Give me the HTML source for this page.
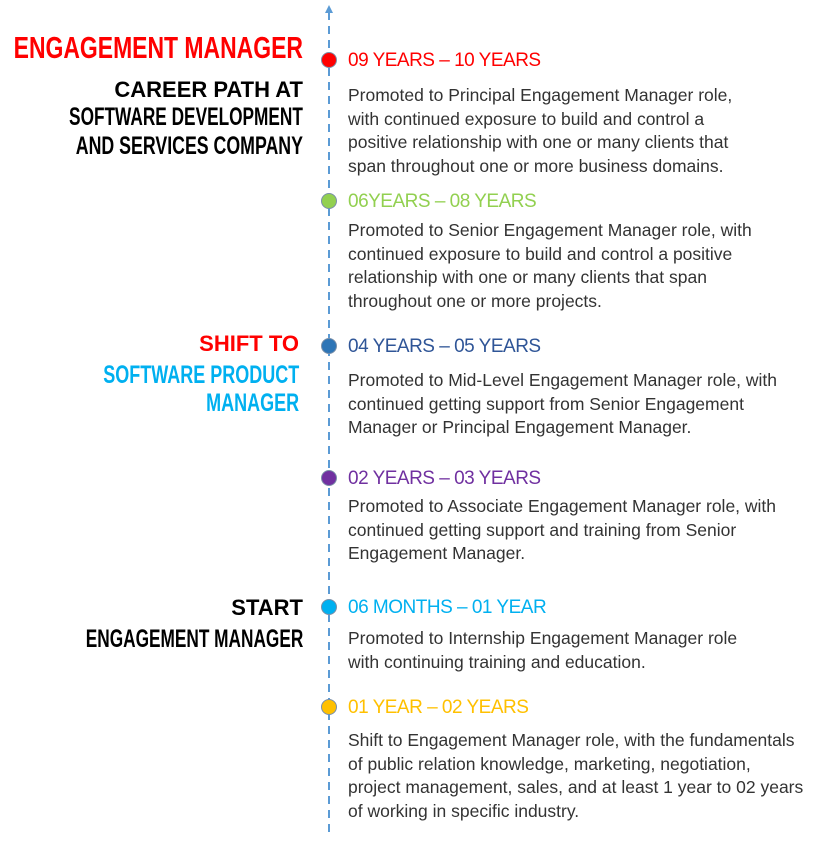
<!DOCTYPE html>
<html><head><meta charset="utf-8"><style>
body{margin:0;width:817px;height:849px;background:#fff;position:relative;overflow:hidden;font-family:"Liberation Sans",sans-serif}
.a{position:absolute;white-space:nowrap}
.c{font-family:"Liberation Sans Narrow","Liberation Sans",sans-serif;font-weight:bold;transform:scaleX(.78);transform-origin:right center;right:514px;line-height:1}
.r{right:514px;font-weight:bold;line-height:1}
.d{position:absolute;left:321px;width:16px;height:16px;border-radius:50%;box-sizing:border-box;border:1px solid #7a8fa8}
.h{position:absolute;left:348px;font-size:19px;line-height:1;white-space:nowrap;letter-spacing:-.5px}
.p{position:absolute;left:348px;font-size:17.5px;line-height:23.5px;color:#333;white-space:nowrap}
</style></head><body>
<svg class="a" style="left:0;top:0" width="817" height="849">
<line x1="329" y1="12" x2="329" y2="835" stroke="#5b9bd5" stroke-width="2" stroke-dasharray="8,6"/>
<polygon points="329,5 325,13 333,13" fill="#5b9bd5"/>
</svg>
<div class="a c" style="top:32px;font-size:31px;color:#f00;transform:scaleX(.74)">ENGAGEMENT MANAGER</div>
<div class="a r" style="top:79px;font-size:22px;color:#000">CAREER PATH AT</div>
<div class="a c" style="top:105px;font-size:25px;color:#000;transform:scaleX(.69)">SOFTWARE DEVELOPMENT</div>
<div class="a c" style="top:134px;font-size:25px;color:#000;transform:scaleX(.71)">AND SERVICES COMPANY</div>
<div class="a r" style="top:333px;font-size:22px;color:#f00;right:518px">SHIFT TO</div>
<div class="a c" style="top:363px;font-size:25px;color:#00b0f0;right:518px;transform:scaleX(.72)">SOFTWARE PRODUCT</div>
<div class="a c" style="top:391px;font-size:25px;color:#00b0f0;right:518px;transform:scaleX(.72)">MANAGER</div>
<div class="a r" style="top:597px;font-size:22px;color:#000">START</div>
<div class="a c" style="top:627px;font-size:25px;color:#000;transform:scaleX(.69)">ENGAGEMENT MANAGER</div>

<div class="d" style="top:52px;background:#f00"></div>
<div class="h" style="top:51px;color:#f00">09 YEARS – 10 YEARS</div>
<div class="p" style="top:84px">Promoted to Principal Engagement Manager role,<br>with continued exposure to build and control a<br>positive relationship with one or many clients that<br>span throughout one or more business domains.</div>

<div class="d" style="top:193px;background:#92d050"></div>
<div class="h" style="top:192px;color:#92d050">06YEARS – 08 YEARS</div>
<div class="p" style="top:219px">Promoted to Senior Engagement Manager role, with<br>continued exposure to build and control a positive<br>relationship with one or many clients that span<br>throughout one or more projects.</div>

<div class="d" style="top:338px;background:#2e75b6"></div>
<div class="h" style="top:337px;color:#2f5597">04 YEARS – 05 YEARS</div>
<div class="p" style="top:369px">Promoted to Mid-Level Engagement Manager role, with<br>continued getting support from Senior Engagement<br>Manager or Principal Engagement Manager.</div>

<div class="d" style="top:470px;background:#7030a0"></div>
<div class="h" style="top:469px;color:#7030a0">02 YEARS – 03 YEARS</div>
<div class="p" style="top:495px">Promoted to Associate Engagement Manager role, with<br>continued getting support and training from Senior<br>Engagement Manager.</div>

<div class="d" style="top:599px;background:#00b0f0"></div>
<div class="h" style="top:598px;color:#00b0f0">06 MONTHS – 01 YEAR</div>
<div class="p" style="top:627px">Promoted to Internship Engagement Manager role<br>with continuing training and education.</div>

<div class="d" style="top:699px;background:#ffc000"></div>
<div class="h" style="top:698px;color:#ffc000">01 YEAR – 02 YEARS</div>
<div class="p" style="top:729px">Shift to Engagement Manager role, with the fundamentals<br>of public relation knowledge, marketing, negotiation,<br>project management, sales, and at least 1 year to 02 years<br>of working in specific industry.</div>
</body></html>
